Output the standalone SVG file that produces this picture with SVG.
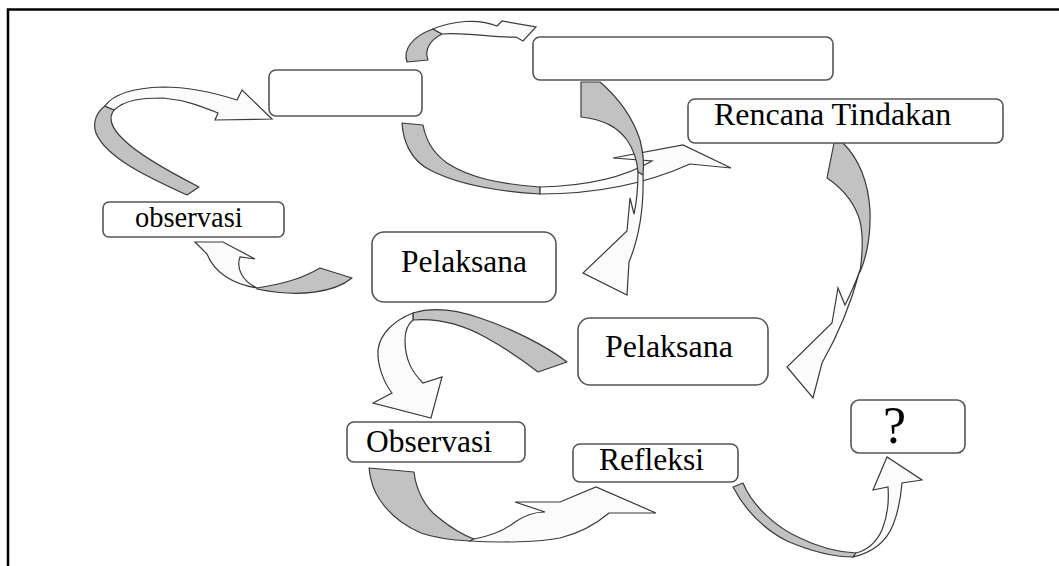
<svg xmlns="http://www.w3.org/2000/svg" width="1059" height="566" viewBox="0 0 1059 566">
<style>
.box{fill:#ffffff;stroke:#555555;stroke-width:1.6}
.lbl{font-family:"Liberation Serif","Times New Roman",serif;fill:#000000}
.gray{fill:#c2c2c2;stroke:#3a3a3a;stroke-width:1.2;stroke-linejoin:round}
.white{fill:#fbfbfb;stroke:#3a3a3a;stroke-width:1.2;stroke-linejoin:miter}
</style>
<rect width="1059" height="566" fill="#ffffff"/>
<path d="M8,566 L8,9.5 L1059,9.5" fill="none" stroke="#000000" stroke-width="2.5"/>
<g id="connectors">
  <g id="arrow1">
    <path class="gray" d="M187,195 C150,178 106,158 96,133 C92,122 97,112 105,106 L114,110 C108,118 111,128 124,140 C136,152 162,168 199,187 Z"/>
    <path class="white" d="M105,106 C112,96 130,88 163,87 C190,87 215,93 237,100 L242,90 L272,119 L215,120 L218,113 C200,106 185,100 163,98 C140,98 125,100 114,110 Z"/>
  </g>
  <g id="arrow2">
    <path class="gray" d="M407,62 C403,50 411,37 433,29 L442,34 C430,40 424,50 428,60 Z"/>
    <path class="white" d="M433,29 C452,21 478,18 497,26 L502,21 L536,27 L523,41 L516,37 C495,38 465,32 442,34 Z"/>
  </g>
  <g id="arrow3">
    <path class="gray" d="M402,123 C403,140 410,160 430,170 C455,183 490,191 540,194 L540,187 C500,184 470,178 447,163 C432,152 426,140 423,125 Z"/>
    <path class="white" d="M540,187 C585,186 625,177 652,161 L613,158 L683,145 L731,168 L690,164 C650,182 600,194 540,194 Z"/>
  </g>
  <g id="arrow4">
    <path class="gray" d="M581,82 L600,82 C615,95 632,115 640,140 C644,155 644,165 643,175 L638,172 C637,160 634,150 627,140 C618,128 606,120 581,117 Z"/>
    <path class="white" d="M638,172 C638,190 636,205 634,214 L630,198 L627,231 L583,273 L627,295 L629,262 C638,240 644,210 643,175 Z"/>
  </g>
  <g id="arrow5">
    <path class="gray" d="M834,143 L843,143 C858,158 868,180 870,210 C871,240 866,258 860,272 C863,250 864,230 858,215 C852,200 842,188 827,178 Z"/>
    <path class="white" d="M860,270 C856,282 850,295 845,305 L838,288 L832,323 L787,367 L813,398 L822,363 C838,335 852,300 860,270 Z"/>
  </g>
  <g id="arrow6">
    <path class="gray" d="M257,288 C280,284 300,280 320,268 L352,278 C335,292 300,298 257,289 Z"/>
    <path class="white" d="M257,288 C232,284 214,272 207,254 L195,242 L223,242 L255,259 L240,257 C236,268 242,281 257,288 Z"/>
  </g>
  <g id="arrow7">
    <path class="gray" d="M567,362 C545,345 510,328 480,318 C460,311 435,306 413,313 L413,320 C440,318 465,326 485,337 C505,348 520,358 538,372 Z"/>
    <path class="white" d="M413,313 C395,320 380,333 378,350 C377,365 384,383 392,393 L373,403 L431,418 L442,377 L423,383 C412,372 405,360 405,340 C405,330 408,324 413,320 Z"/>
  </g>
  <g id="arrow8">
    <path class="gray" d="M369,468 L414,472 C416,490 425,508 439,518 C450,527 460,534 474,539 L470,541 C450,540 435,538 421,533 C400,524 388,512 380,500 C373,490 370,478 369,468 Z"/>
    <path class="white" d="M474,539 C490,536 505,530 515,522 C525,515 535,512 545,512 L515,502 L560,502 L596,487 L656,513 L609,513 C595,525 580,533 560,538 C540,542 500,543 470,541 Z"/>
  </g>
  <g id="arrow9">
    <path class="gray" d="M733,487 L743,483 C752,505 775,527 800,538 C820,548 838,552 856,553 L853,557 C832,557 808,550 787,541 C762,528 745,510 733,487 Z"/>
    <path class="white" d="M853,557 C870,553 885,545 893,525 C899,510 901,495 902,483 L922,480 L887,457 L873,490 L888,487 C889,500 888,515 882,530 C876,543 868,550 856,553 Z"/>
  </g>
</g>
<g id="box-a"><rect class="box" x="269" y="70" width="153" height="46" rx="7"/></g>
<g id="box-b"><rect class="box" x="533" y="37" width="300" height="43" rx="7"/></g>
<g id="rencana"><rect class="box" x="688" y="99" width="315" height="44" rx="7"/><text class="lbl" x="714" y="125" font-size="32">Rencana Tindakan</text></g>
<g id="observasi1"><rect class="box" x="103" y="202" width="181" height="35" rx="6"/><text class="lbl" x="135" y="227" font-size="28.5">observasi</text></g>
<g id="pelaksana1"><rect class="box" x="372" y="232" width="184" height="70" rx="12"/><text class="lbl" x="401" y="272" font-size="31.5">Pelaksana</text></g>
<g id="pelaksana2"><rect class="box" x="578" y="318" width="190" height="67" rx="12"/><text class="lbl" x="605" y="357" font-size="32">Pelaksana</text></g>
<g id="observasi2"><rect class="box" x="347" y="422" width="178" height="40" rx="7"/><text class="lbl" x="366" y="452" font-size="31.5">Observasi</text></g>
<g id="refleksi"><rect class="box" x="573" y="444" width="165" height="38" rx="7"/><text class="lbl" x="599" y="470" font-size="31.5">Refleksi</text></g>
<g id="question"><rect class="box" x="851" y="400" width="114" height="53" rx="8"/><text class="lbl" x="883" y="443" font-size="52">?</text></g>
</svg>
